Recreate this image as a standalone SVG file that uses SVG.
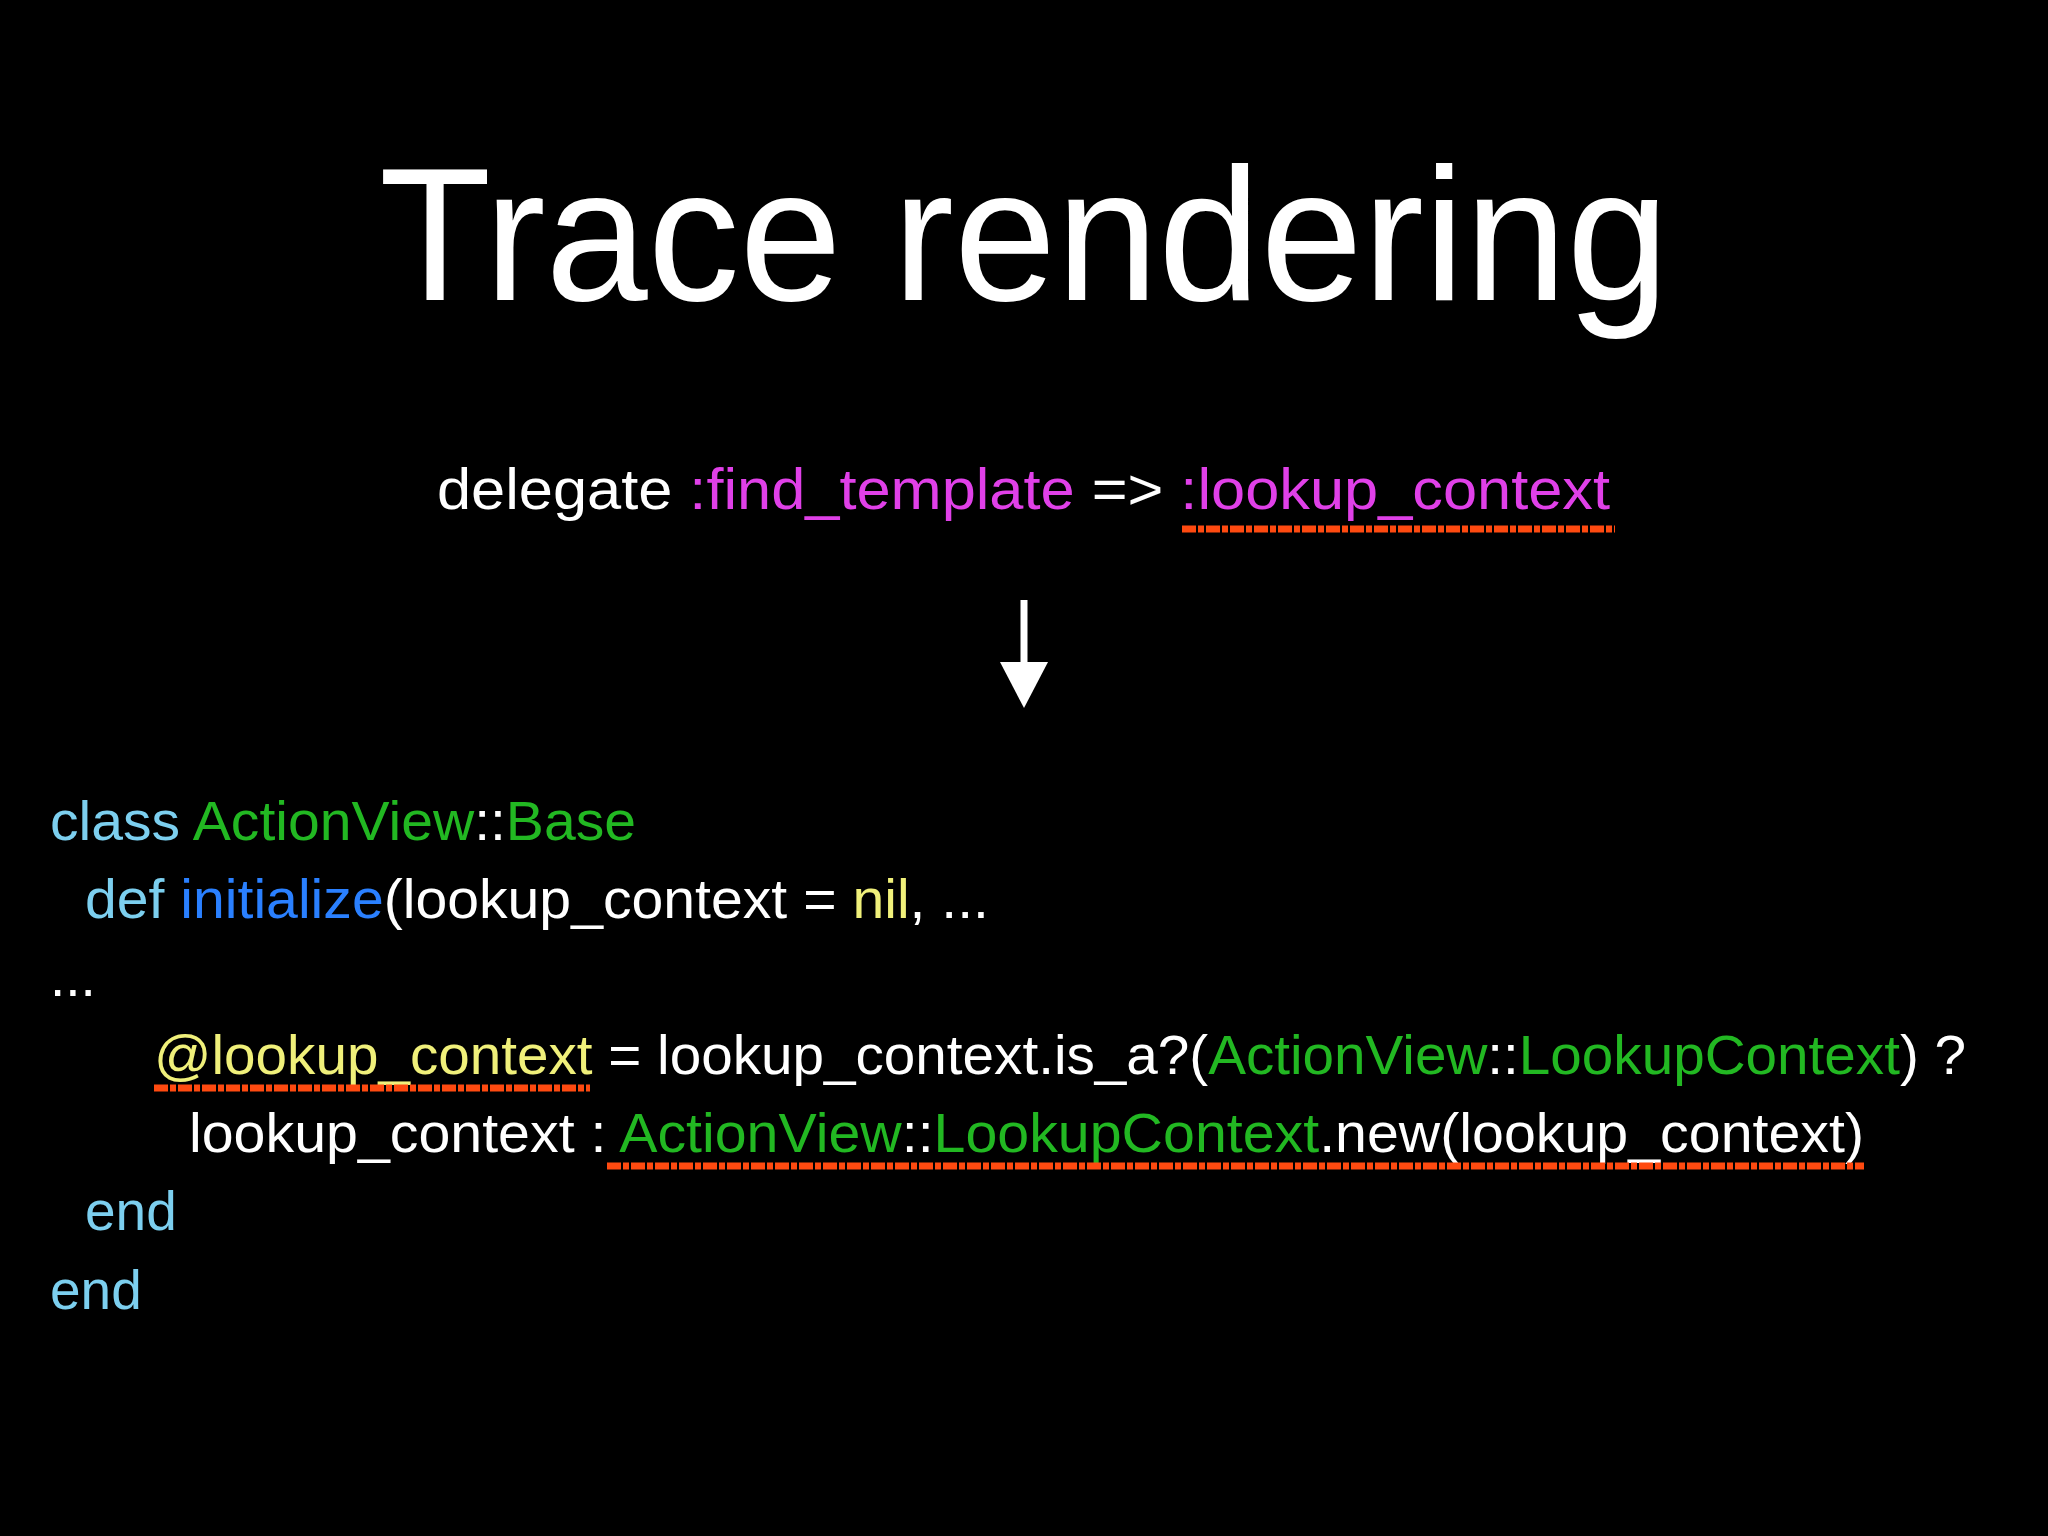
<svg xmlns="http://www.w3.org/2000/svg" width="2048" height="1536" viewBox="0 0 2048 1536">
<style>
text{font-family:"Liberation Sans",Arial,sans-serif;fill:#fff}
.c{font-size:55px}
.kw{fill:#7ccfef}.gr{fill:#22b822}.bl{fill:#2a80ff}.ye{fill:#f0f07a}.mg{fill:#e040e8}
.ul{stroke:#ff4a10;stroke-width:7;fill:none;stroke-dasharray:14 2 6 2}
</style>
<rect width="2048" height="1536" fill="#000"/>
<g id="title"><text x="1024" y="300" font-size="190" text-anchor="middle" textLength="1290" lengthAdjust="spacingAndGlyphs">Trace rendering</text></g>
<g id="delegate"><text x="437" y="509" font-size="57" textLength="1173" lengthAdjust="spacingAndGlyphs">delegate <tspan class="mg">:find_template</tspan> =&gt; <tspan class="mg">:lookup_context</tspan></text>
<path class="ul" d="M1182 529 L1615 529"/></g>
<g id="connectors"><line x1="1024" y1="600" x2="1024" y2="680" stroke="#fff" stroke-width="7"/><polygon points="1000,662 1048,662 1024,708" fill="#fff"/></g>
<g id="code" class="c">
<text class="c" x="50" y="840" textLength="586" lengthAdjust="spacingAndGlyphs"><tspan class="kw">class</tspan> <tspan class="gr">ActionView</tspan>::<tspan class="gr">Base</tspan></text>
<text class="c" x="85" y="918" textLength="904" lengthAdjust="spacingAndGlyphs"><tspan class="kw">def</tspan> <tspan class="bl">initialize</tspan>(lookup_context = <tspan class="ye">nil</tspan>, ...</text>
<text class="c" x="50" y="996">...</text>
<text class="c" x="154" y="1074" textLength="1812" lengthAdjust="spacingAndGlyphs"><tspan class="ye">@lookup_context</tspan> = lookup_context.is_a?(<tspan class="gr">ActionView</tspan>::<tspan class="gr">LookupContext</tspan>) ?</text>
<text class="c" x="189" y="1152" textLength="1675" lengthAdjust="spacingAndGlyphs">lookup_context : <tspan class="gr">ActionView</tspan>::<tspan class="gr">LookupContext</tspan>.new(lookup_context)</text>
<text class="c kw" x="85" y="1230" style="fill:#7ccfef">end</text>
<text class="c kw" x="50" y="1309" style="fill:#7ccfef">end</text>
<path class="ul" d="M154 1088 L590 1088"/>
<path class="ul" d="M607 1166 L1864 1166"/>
</g>
</svg>
